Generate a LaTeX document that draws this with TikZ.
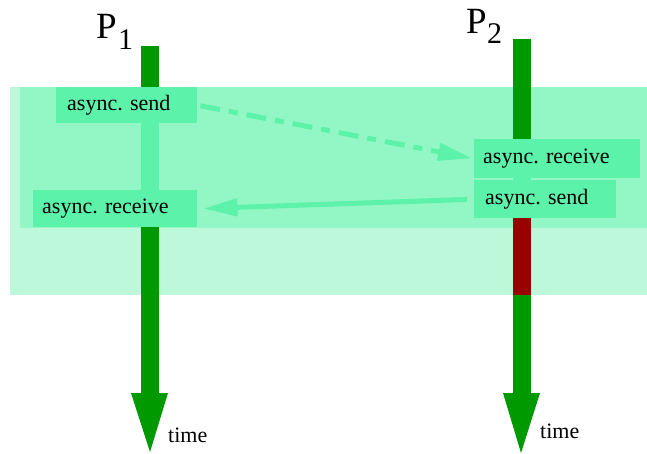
\documentclass[tikz,border=0pt]{standalone}
\usepackage{fontspec}
\setmainfont{Liberation Serif}
\newfontfamily\tms{Liberation Serif}
\usetikzlibrary{arrows.meta}
\definecolor{bandout}{HTML}{BDF8DA}
\definecolor{bandin}{HTML}{93F7C5}
\definecolor{boxc}{HTML}{5CF2AA}
\definecolor{lifeg}{HTML}{009900}
\definecolor{lifer}{HTML}{990000}
\frenchspacing
\tikzset{
  box/.style={fill=boxc, anchor=north west, inner ysep=0pt, align=left,
    font=\tms\fontsize{22}{24}\selectfont\frenchspacing},
  msg/.style={draw=boxc, line width=5pt, -{Triangle[length=34pt,width=17pt]}},
  plabel/.style={font=\tms\fontsize{37}{38}\selectfont, inner sep=0pt, anchor=base west},
  psub/.style={font=\tms\fontsize{30}{32}\selectfont, inner sep=0pt, anchor=base west},
  tlabel/.style={font=\tms\fontsize{22}{24}\selectfont, inner sep=0pt, anchor=base west}
}
\begin{document}
\begin{tikzpicture}[x=1pt,y=-1pt]
\useasboundingbox (0,0) rectangle (647,453);
% bands
\fill[bandout] (10,87) rectangle (647,295);
\fill[bandin] (20,87) rectangle (647,228);
% lifelines
\coordinate (p1top) at (150,46);
\coordinate (p2top) at (522,39);
\fill[lifeg] (141,46) rectangle (159,394);
\fill[lifeg] (131,393) -- (168,393) -- (150,452) -- cycle;
\fill[lifeg] (513,39) rectangle (531,394);
\fill[lifeg] (503,393) -- (540,393) -- (521,453) -- cycle;
\fill[lifer] (513,218) rectangle (531,295);
\fill[boxc] (141,123) rectangle (159,191);
\fill[boxc] (513,177) rectangle (531,181);
% boxes
\node[box, inner xsep=11pt, minimum width=141pt, minimum height=36pt, text width=119pt] (s1) at (56,87) {async. send};
\node[box, inner xsep=9pt, minimum width=164pt, minimum height=37pt, text width=146pt] (r1) at (33,190) {async. receive};
\node[box, inner xsep=9pt, minimum width=166pt, minimum height=39pt, text width=148pt] (r2) at (474,139) {async. receive};
\node[box, inner xsep=11pt, minimum width=142pt, minimum height=38pt, text width=120pt] (s2) at (474,180) {async. send};
% messages
\draw[msg, dash pattern=on 20pt off 9pt on 9pt off 9pt, shorten <=3pt, shorten >=2pt] (s1.east) -- (r2.west);
\draw[msg, shorten <=7pt, shorten >=6pt] (s2.west) -- (r1.east);
% labels
\node[plabel] (P1) at (96,38) {P};
\node[psub] (P1s) at (118,49) {1};
\node[plabel] (P2) at (466,33) {P};
\node[psub] (P2s) at (487,43) {2};
\node[tlabel] (t1) at (168,442) {time};
\node[tlabel] (t2) at (540,438) {time};
\end{tikzpicture}
\end{document}
